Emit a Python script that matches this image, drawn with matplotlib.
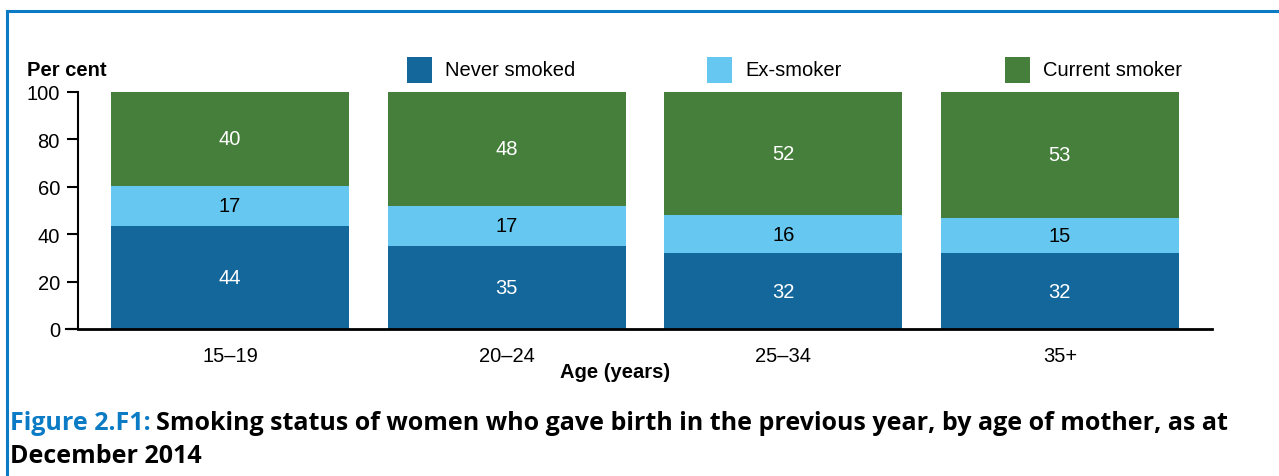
import matplotlib
matplotlib.use("Agg")
import matplotlib.pyplot as plt
from matplotlib.patches import Rectangle
from matplotlib.lines import Line2D
import numpy as np

categories = ["15–19", "20–24", "25–34", "35+"]
series_names = ["Never smoked", "Ex-smoker", "Current smoker"]
never_smoked = [44, 35, 32, 32]
ex_smoker = [17, 17, 16, 15]
current_smoker = [40, 48, 52, 53]
yticks = [0, 20, 40, 60, 80, 100]

colors = ["#14679b", "#66c8f0", "#467f3b"]
label_colors = ["white", "black", "white"]

plt.rcParams["font.family"] = ["Liberation Sans", "DejaVu Sans"]
W, H = 1279, 477
fig = plt.figure(figsize=(W / 100, H / 100), dpi=100)
FS = 14.5

def fx(px):
    return px / W

def fy(py):
    return 1 - py / H

ax = fig.add_axes([fx(78), fy(330), fx(1212) - fx(78), fy(93) - fy(330)])

data = np.array([never_smoked, ex_smoker, current_smoker], dtype=float)
totals = data.sum(axis=0)
heights = data / totals * 100
x = np.arange(len(categories))
bottom = np.zeros(len(categories))
for i in range(3):
    ax.bar(x, heights[i], bottom=bottom, width=0.86, color=colors[i], linewidth=0)
    for j in range(len(categories)):
        ax.text(x[j], bottom[j] + heights[i][j] / 2, f"{int(data[i][j])}",
                ha="center", va="center", fontsize=FS, color=label_colors[i])
    bottom += heights[i]

ax.set_xlim(-0.55, 3.55)
ax.set_ylim(0, 100)
ax.set_yticks(yticks)
ax.set_yticklabels([str(v) for v in yticks], fontsize=FS)
ax.set_xticks(x)
ax.set_xticklabels(categories, fontsize=FS)
ax.tick_params(axis="y", length=8, width=1.5, pad=5, direction="out")
ax.tick_params(axis="x", length=0, pad=12)
for s in ["top", "right"]:
    ax.spines[s].set_visible(False)
ax.spines["left"].set_linewidth(1.5)
ax.spines["bottom"].set_linewidth(2)

fig.add_artist(Line2D([fx(66), fx(78)], [fy(330), fy(330)], color="black", lw=1.5,
                      transform=fig.transFigure))

fig.text(fx(615), fy(372), "Age (years)", ha="center", va="center",
         fontsize=FS, fontweight="bold")
fig.text(fx(27), fy(71), "Per cent", ha="left", va="center",
         fontsize=FS, fontweight="bold")

leg_x = [407, 707, 1005]
for i, name in enumerate(series_names):
    fig.add_artist(Rectangle((fx(leg_x[i]), fy(84)), fx(25), fy(58) - fy(84),
                             transform=fig.transFigure, color=colors[i], lw=0))
    fig.text(fx(leg_x[i] + 38), fy(71), name, ha="left", va="center", fontsize=FS)

border_c = "#0a7bc4"
fig.add_artist(Line2D([fx(7), 1], [fy(12), fy(12)], color=border_c, lw=2.2,
                      transform=fig.transFigure))
fig.add_artist(Line2D([fx(7), fx(7)], [fy(12), 0], color=border_c, lw=2.2,
                      transform=fig.transFigure))

cap_font = ["Open Sans", "DejaVu Sans"]
CFS = 18
t1 = fig.text(fx(10), fy(424), "Figure 2.F1:", ha="left", va="center", fontsize=CFS,
              fontweight="bold", color=border_c, family=cap_font)
fig.canvas.draw()
bb = t1.get_window_extent()
fig.text(bb.x1 / W + fx(5), fy(424),
         "Smoking status of women who gave birth in the previous year, by age of mother, as at",
         ha="left", va="center", fontsize=CFS, fontweight="bold", color="black", family=cap_font)
fig.text(fx(10), fy(457), "December 2014", ha="left", va="center", fontsize=CFS,
         fontweight="bold", color="black", family=cap_font)

fig.savefig("out.png", dpi=100)
